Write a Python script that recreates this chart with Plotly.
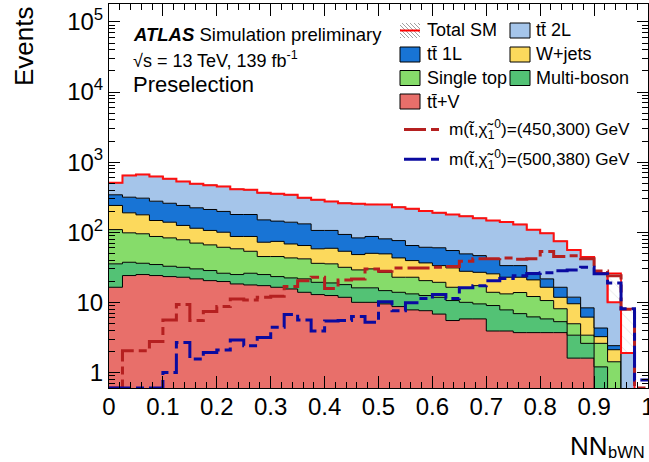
import numpy as np
import plotly.graph_objects as go

# ---------------- data ----------------
bin_edges = [0.000, 0.025, 0.050, 0.075, 0.100, 0.125, 0.150, 0.175, 0.200, 0.225,
             0.250, 0.275, 0.300, 0.325, 0.350, 0.375, 0.400, 0.425, 0.450, 0.475,
             0.500, 0.525, 0.550, 0.575, 0.600, 0.625, 0.650, 0.675, 0.700, 0.725,
             0.750, 0.775, 0.800, 0.825, 0.850, 0.875, 0.900, 0.925, 0.950, 0.975, 1.000]

ttv = [16.4, 24.1, 24.9, 24.1, 23.3, 22.8, 21.6, 20.4, 19.8, 18.3,
       17.7, 17.3, 16.4, 15.5, 13.9, 12.9, 12.5, 11.8, 10.0, 10.0,
       9.5, 8.7, 7.8, 7.6, 6.8, 5.5, 5.8, 5.8, 3.9, 3.9,
       3.7, 3.7, 3.7, 3.7, 1.6, 1.6, 0, 0, 0, 0]
multiboson = [19.0, 13.2, 11.2, 10.5, 9.4, 8.8, 8.4, 8.0, 6.2, 6.6,
              8.3, 7.6, 6.9, 6.8, 7.7, 6.4, 6.4, 6.1, 6.1, 6.1,
              5.2, 5.2, 5.4, 4.9, 5.0, 5.1, 4.2, 3.7, 5.1, 3.9,
              3.2, 2.5, 2.1, 1.6, 1.8, 1.0, 1.2, 0, 0, 0]
single_top = [73.6, 60.7, 58.9, 52.4, 50.3, 46.4, 40.0, 37.6, 35.0, 33.1,
              27.5, 20.1, 21.7, 20.7, 20.1, 16.7, 16.5, 13.7, 12.9, 13.9,
              12.1, 8.9, 9.6, 7.9, 7.5, 5.8, 6.1, 7.8, 4.9, 5.4,
              6.9, 5.9, 4.8, 2.8, 1.55, 0.8, 1.4, 1.42, 0, 0]
wjets = [132, 91, 82, 60, 56, 47, 44, 40, 39, 29,
         33.5, 27, 29, 25, 22.9, 22, 23.6, 21.9, 19, 20,
         22.3, 20.2, 16.6, 16.1, 14.1, 14.6, 11.6, 9.5, 11.6, 9.6,
         9.0, 8.8, 5.8, 3.7, 4.6, 2.75, 0.64, 0.69, 0, 0]
ttbar_1l = [101, 127, 129, 130, 120, 116, 109, 105, 98, 92,
            92, 78, 70, 71, 67, 48, 47, 39.5, 35, 37,
            31.4, 33, 25.2, 24.5, 26.6, 23.8, 21.4, 19.6, 16.2, 10.6,
            10.6, 4.0, 5.2, 4.6, 2.3, 2.2, 1.06, 0.3, 0, 0]
ttbar_2l = [166, 330, 361, 348, 320, 289, 268, 258, 252, 232,
            224, 215, 210, 203, 178, 184, 169, 167, 172, 162,
            168, 152, 151, 139, 129, 124, 120, 112, 105, 106,
            96, 84, 75, 58, 44, 36, 22, 7.6, 1.9, 0]
total_sm_unc = [0, 0, 0, 0, 0, 0, 0, 0, 0, 0,
                0, 0, 0, 0, 0, 0, 0, 0, 0, 0,
                0, 0, 0, 0, 0, 0, 0, 0, 0, 0,
                0, 0, 0, 0, 0, 0, 0, 16, 6.2, 0]
sig_450_300 = [0, 2.04, 2.04, 2.77, 5.6, 9.3, 5.5, 7.4, 8.7, 11.2,
               10.8, 11.8, 12.2, 16.8, 20.4, 22.8, 15.8, 20.9, 21.6, 30,
               27.7, 31, 31, 31, 31.6, 32.4, 38.5, 41.7, 41.7, 43,
               41, 42, 53, 45, 46, 42, 28, 24, 8, 0]
sig_500_380 = [0, 0, 0, 0, 1.0, 2.68, 1.55, 1.93, 2.09, 2.9,
               2.41, 3.16, 4.4, 6.7, 5.6, 3.9, 5.4, 5.5, 6.3, 5.2,
               10.2, 7.6, 9.9, 11.3, 12.9, 11.3, 16.2, 17.3, 20.4, 21.8,
               24, 25.7, 26.5, 28.3, 29, 31.6, 25.5, 18.8, 8.1, 0.78]

x_tick_vals = [0, 0.1, 0.2, 0.3, 0.4, 0.5, 0.6, 0.7, 0.8, 0.9, 1.0]
x_tick_text = ["0", "0.1", "0.2", "0.3", "0.4", "0.5", "0.6", "0.7", "0.8", "0.9", "1"]
y_tick_vals = [1, 10, 100, 1000, 10000, 100000]
y_tick_text = ["1", "10", "10<sup>2</sup>", "10<sup>3</sup>", "10<sup>4</sup>", "10<sup>5</sup>"]

# ---------------- styling ----------------
FONT = "Liberation Sans"
W, H = 649, 462
L, R, T, B = 109, 1, 4, 74
PW = W - L - R
PH = H - T - B
YMIN, YMAX = 0.6, 1.8e5
FLOOR = 1e-3

C_TTV = "#e86f6a"
C_MB = "#53c275"
C_ST = "#86dc6a"
C_W = "#fcd95c"
C_1L = "#1874d5"
C_2L = "#a5c5ea"
C_SIG1 = "#b52020"
C_SIG2 = "#0a0aa0"
DASH = "22px,5px,8px,5px"


def pxx(p):
    return (p - L) / PW


def pxy(p):
    return (H - B - p) / PH


def step_y(v):
    v = list(v)
    return v + [v[-1]]


edges = np.array(bin_edges)
fig = go.Figure()

# baseline for the first fill
fig.add_trace(go.Scatter(x=edges, y=[FLOOR] * len(edges), mode="lines",
                         line=dict(width=0, shape="hv"), hoverinfo="skip",
                         showlegend=False))

components = [(ttv, C_TTV), (multiboson, C_MB), (single_top, C_ST),
              (wjets, C_W), (ttbar_1l, C_1L), (ttbar_2l, C_2L)]
cum = np.zeros(len(ttv))
for vals, col in components:
    cum = cum + np.array(vals, dtype=float)
    y = np.maximum(cum, FLOOR)
    fig.add_trace(go.Scatter(x=edges, y=step_y(y), mode="lines",
                             line=dict(color="black", width=1, shape="hv"),
                             fill="tonexty", fillcolor=col, hoverinfo="skip",
                             showlegend=False))
total = cum.copy()

# uncertainty band (only visible where sizeable)
for i, e in enumerate(total_sm_unc):
    if e > 0:
        x0, x1 = edges[i], edges[i + 1]
        lo = max(total[i], FLOOR)
        hi = total[i] + e
        fig.add_trace(go.Scatter(
            x=[x0, x0, x1, x1], y=[lo, hi, hi, lo], mode="lines",
            fill="toself", fillcolor="white",
            fillpattern=dict(shape="\\", fgcolor="#b0b0b0", bgcolor="white",
                             size=8, solidity=0.08),
            line=dict(color="red", width=1.6), hoverinfo="skip",
            showlegend=False))

# total SM line
fig.add_trace(go.Scatter(x=edges, y=step_y(np.maximum(total, FLOOR)), mode="lines",
                         line=dict(color="#ff1010", width=2, shape="hv"),
                         hoverinfo="skip", showlegend=False))

# signals
for sig, col in [(sig_450_300, C_SIG1), (sig_500_380, C_SIG2)]:
    ys = np.maximum(np.array(sig, dtype=float), YMIN)
    fig.add_trace(go.Scatter(x=edges, y=step_y(ys), mode="lines",
                             line=dict(color=col, width=3, shape="hv", dash=DASH),
                             hoverinfo="skip", showlegend=False))

# ---------------- texts & legend ----------------
ann = []
shapes = []


def text(x, y, s, size=18, xanchor="left", yanchor="middle", angle=0):
    ann.append(dict(x=pxx(x), y=pxy(y), xref="paper", yref="paper", text=s,
                    showarrow=False, xanchor=xanchor, yanchor=yanchor,
                    textangle=angle, font=dict(family=FONT, size=size, color="black")))


text(130.8, 34, "<b><i>ATLAS</i></b> Simulation preliminary", 18.5)
text(130.8, 59.5, "\u221as = 13 TeV, 139 fb<sup>-1</sup>", 18)
text(130.8, 84, "Preselection", 22)

rows_y = [30.5, 54.5, 78.0, 101.5]
col_sw = [(400, 420, 425), (510, 530, 534)]
entries = [(0, 0, "Total SM", None), (0, 1, "tt\u0304 2L", C_2L),
           (1, 0, "tt\u0304 1L", C_1L), (1, 1, "W+jets", C_W),
           (2, 0, "Single top", C_ST), (2, 1, "Multi-boson", C_MB),
           (3, 0, "tt\u0304+V", C_TTV)]
for r, c, lab, col in entries:
    yc = rows_y[r]
    x0, x1, xt = col_sw[c]
    if col is None:
        # hatched swatch with red line
        top, bot = yc - 7.5, yc + 7.5
        for k in range(-14, 20, 4):
            xa, ya = x0 + k, top
            xb, yb = x0 + k + 15, bot
            if xa < x0:
                ya = top + (x0 - xa)
                xa = x0
            if xb > x1:
                yb = bot - (xb - x1)
                xb = x1
            if xb > xa and yb > ya:
                shapes.append(dict(type="line", xref="paper", yref="paper",
                                   x0=pxx(xa), y0=pxy(ya), x1=pxx(xb), y1=pxy(yb),
                                   line=dict(color="#a0a0a0", width=1)))
        shapes.append(dict(type="line", xref="paper", yref="paper",
                           x0=pxx(x0), y0=pxy(yc), x1=pxx(x1), y1=pxy(yc),
                           line=dict(color="red", width=2)))
    else:
        shapes.append(dict(type="rect", xref="paper", yref="paper",
                           x0=pxx(x0), y0=pxy(yc + 7.5), x1=pxx(x1), y1=pxy(yc - 7.5),
                           fillcolor=col, line=dict(color="black", width=1)))
    text(xt, yc, lab, 18)

sig_rows = [(129.5, C_SIG1, "m(t\u0303,\u03c7\u0303<sub>1</sub><sup>0</sup>)=(450,300) GeV"),
            (159.3, C_SIG2, "m(t\u0303,\u03c7\u0303<sub>1</sub><sup>0</sup>)=(500,380) GeV")]
for yc, col, lab in sig_rows:
    shapes.append(dict(type="line", xref="paper", yref="paper",
                       x0=pxx(404), y0=pxy(yc), x1=pxx(440), y1=pxy(yc),
                       line=dict(color=col, width=3, dash=DASH)))
    text(446.6, yc, lab, 17.2)

# axis titles
text(24, 46, "Events", 26, xanchor="center", yanchor="middle", angle=-90)
text(609.5, 446, "NN", 26, xanchor="right", yanchor="middle")
text(647, 452, "bWN", 16.5, xanchor="right", yanchor="middle")

# ---------------- layout ----------------
minor_y = [m * 10.0 ** e for e in range(-1, 6) for m in range(2, 10)]

fig.update_layout(
    width=W, height=H, autosize=False,
    margin=dict(l=L, r=R, t=T, b=B, pad=0),
    paper_bgcolor="white", plot_bgcolor="white",
    showlegend=False,
    annotations=ann, shapes=shapes,
    font=dict(family=FONT, color="black"),
    xaxis=dict(range=[0, 1], showgrid=False, zeroline=False,
               showline=True, linecolor="black", linewidth=1, mirror="allticks",
               ticks="inside", ticklen=12, tickwidth=1, tickcolor="black",
               tickmode="array", tickvals=x_tick_vals, ticktext=x_tick_text,
               tickfont=dict(family=FONT, size=24, color="black"),
               ticklabelstandoff=-3, ticklabeloverflow="allow",
               minor=dict(ticks="inside", ticklen=6, tickwidth=1, tickcolor="black",
                          dtick=0.02, tick0=0, showgrid=False),
               automargin=False),
    yaxis=dict(type="log", range=[np.log10(YMIN), np.log10(YMAX)],
               showgrid=False, zeroline=False,
               showline=True, linecolor="black", linewidth=1, mirror="allticks",
               ticks="inside", ticklen=11, tickwidth=1, tickcolor="black",
               tickmode="array", tickvals=y_tick_vals, ticktext=y_tick_text,
               tickfont=dict(family=FONT, size=24, color="black"),
               minor=dict(ticks="inside", ticklen=6, tickwidth=1, tickcolor="black",
                          tickmode="array", tickvals=minor_y, showgrid=False),
               automargin=False),
)

fig.write_html("out.html",
               config={"displayModeBar": False},
               post_script="document.body.style.margin='0px';"
                           "document.body.style.overflow='hidden';")
